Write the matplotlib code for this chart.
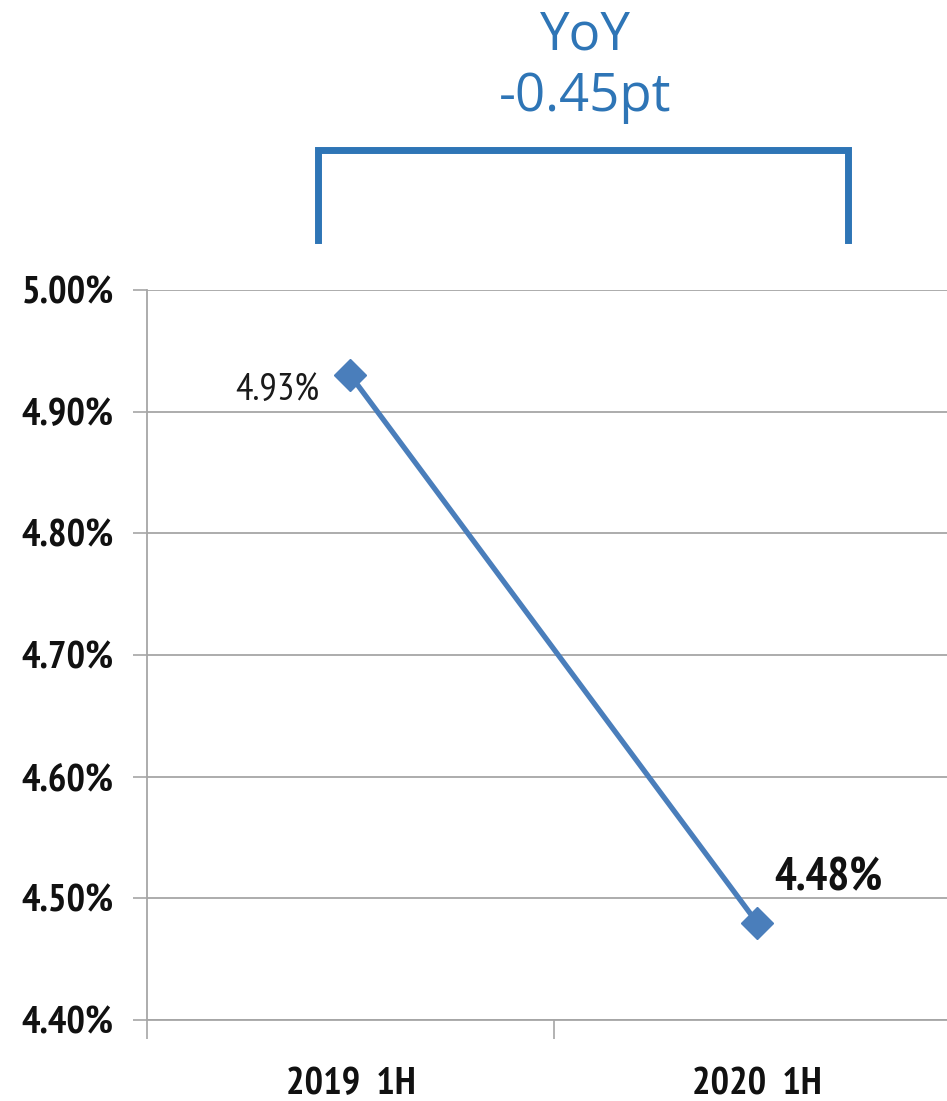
import matplotlib
matplotlib.use("Agg")
import matplotlib.pyplot as plt
from matplotlib.lines import Line2D
from matplotlib.ticker import FuncFormatter

categories = ["2019  1H", "2020  1H"]
values = [4.93, 4.48]
value_labels = ["4.93%", "4.48%"]
yoy_label = ["YoY", "-0.45pt"]
yticks = [4.40, 4.50, 4.60, 4.70, 4.80, 4.90, 5.00]

narrow = ["PT Sans Narrow", "DejaVu Sans"]
title_font = ["Open Sans", "DejaVu Sans"]
blue = "#2E75B6"
line_c = "#4A7EBB"
grid_c = "#A6A6A6"

fig = plt.figure(figsize=(9.47, 11.01), dpi=100)
ax = fig.add_axes([147/947, 1-1020/1101, 1-147/947, (1020-290)/1101])

x = list(range(len(categories)))
ax.plot(x, values, color=line_c, lw=3.8, marker="D", ms=16, mfc=line_c, mec=line_c, zorder=3, clip_on=False)

ax.set_yticks(yticks)
ax.yaxis.set_major_formatter(FuncFormatter(lambda v, p: f"{v:.2f}%"))
ax.set_xticks([-0.5, 0.5])
ax.set_xticklabels([])
ax.set_xticks(x, minor=True)
ax.set_xticklabels(categories, minor=True)
ax.set_ylim(4.40, 5.00)
ax.set_xlim(-0.5, 1.467)
ax.tick_params(axis="x", which="minor", length=0, pad=34)
ax.tick_params(axis="x", which="major", length=14, color=grid_c, width=1.2)
ax.tick_params(axis="y", length=10, color=grid_c, width=1.2, pad=14)
for lab in ax.get_yticklabels() + ax.get_xticklabels(minor=True):
    lab.set_fontfamily(narrow)
    lab.set_fontweight("bold")
    lab.set_fontsize(28)
    lab.set_color("#111111")

ax.grid(axis="y", color=grid_c, lw=1.3)
ax.set_axisbelow(True)
for s in ["top", "right"]:
    ax.spines[s].set_visible(False)
ax.spines["left"].set_color(grid_c)
ax.spines["bottom"].set_color(grid_c)
ax.spines["left"].set_linewidth(1.3)
ax.spines["bottom"].set_linewidth(1.3)

ax.annotate(value_labels[0], (x[0], values[0]), xytext=(-22, -11), textcoords="offset points",
            ha="right", va="center", fontsize=28, family=narrow, color="#1a1a1a")
ax.annotate(value_labels[1], (x[1], values[1]), xytext=(51, 32), textcoords="offset points",
            ha="center", va="center", fontsize=33, family=narrow, fontweight="bold", color="#111111")

# bracket
xl, xr = 318/947, 848/947
yt, yb = 1-150/1101, 1-240/1101
fig.add_artist(Line2D([xl, xl, xr, xr], [yb, yt, yt, yb], color=blue, lw=5, solid_joinstyle="miter"))
fig.text(585/947, 1-36/1101, yoy_label[0], ha="center", va="center", fontsize=38, family=title_font, color=blue)
fig.text(585/947, 1-97/1101, yoy_label[1], ha="center", va="center", fontsize=38, family=title_font, color=blue)

fig.savefig("out.png", dpi=100)
